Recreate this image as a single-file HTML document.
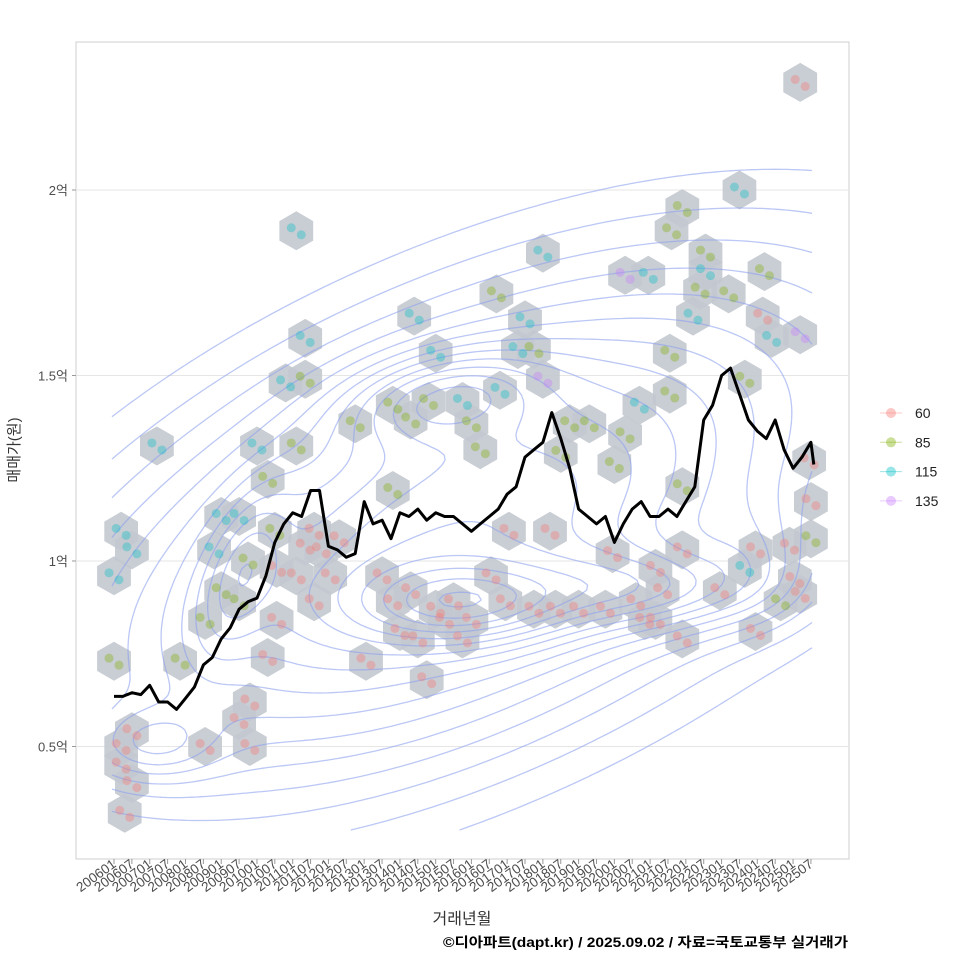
<!DOCTYPE html>
<html><head><meta charset="utf-8"><style>
body{margin:0;background:#fff;}
svg{display:block;font-family:"Liberation Sans","Noto Sans CJK KR",sans-serif;}
</style></head><body>
<svg id="chart" width="960" height="960" viewBox="0 0 960 960" xmlns="http://www.w3.org/2000/svg">
<rect x="0" y="0" width="960" height="960" fill="#fff"/>
<rect x="76" y="42" width="773" height="817" fill="#fff" stroke="#cfcfcf"/>
<g id="grid"></g>
<g id="hexes"></g>
<g id="contours"></g>
<g id="points"></g>
<g id="line"></g>
<g id="yaxis"></g>
<g id="xaxis"></g>
<text transform="translate(19,450) rotate(-90)" text-anchor="middle" font-size="15" fill="#333">매매가(원)</text>
<text x="462" y="924" text-anchor="middle" font-size="16" fill="#333">거래년월</text>
<text x="848" y="947" text-anchor="end" font-size="13.5" font-weight="bold" fill="#000" textLength="405" lengthAdjust="spacingAndGlyphs">©디아파트(dapt.kr) / 2025.09.02 / 자료=국토교통부 실거래가</text>
<g id="legend"></g>
</svg>
<script>
// ---- data ----
var lineYears=[2006,2006.25,2006.5,2006.75,2007,2007.25,2007.5,2007.75,2008,2008.25,2008.5,2008.75,2009,2009.25,2009.5,2009.75,2010,2010.25,2010.5,2010.75,2011,2011.25,2011.5,2011.75,2012,2012.25,2012.5,2012.75,2013,2013.25,2013.5,2013.75,2014,2014.25,2014.5,2014.75,2015,2015.25,2015.5,2015.75,2016,2016.25,2016.5,2016.75,2017,2017.25,2017.5,2017.75,2018,2018.25,2018.5,2018.75,2019,2019.25,2019.5,2019.75,2020,2020.25,2020.5,2020.75,2021,2021.25,2021.5,2021.75,2022,2022.25,2022.5,2022.75,2023,2023.25,2023.5,2023.75,2024,2024.25,2024.5,2024.75,2025,2025.25,2025.5,2025.58];
var lineValues=[0.635,0.635,0.645,0.64,0.665,0.62,0.62,0.60,0.63,0.66,0.72,0.74,0.79,0.82,0.87,0.89,0.90,0.96,1.05,1.10,1.13,1.12,1.19,1.19,1.04,1.03,1.01,1.02,1.16,1.10,1.11,1.06,1.13,1.12,1.14,1.11,1.13,1.12,1.12,1.10,1.08,1.10,1.12,1.14,1.18,1.20,1.28,1.30,1.32,1.40,1.33,1.25,1.14,1.12,1.10,1.12,1.05,1.10,1.14,1.16,1.12,1.12,1.14,1.12,1.16,1.20,1.38,1.42,1.50,1.52,1.45,1.38,1.35,1.33,1.38,1.30,1.25,1.28,1.32,1.26];
var hexYear=[2006.0,2006.0,2006.2,2006.2,2006.5,2006.5,2006.3,2006.5,2006.2,2007.2,2007.85,2008.55,2008.55,2008.8,2009.0,2009.0,2009.5,2009.5,2009.75,2009.8,2009.8,2009.5,2010.0,2010.3,2010.3,2010.55,2010.55,2010.5,2011.1,2011.1,2010.8,2011.35,2011.35,2011.1,2011.35,2011.6,2011.8,2011.6,2012.05,2012.3,2012.75,2013.05,2013.5,2013.8,2013.8,2013.8,2014.0,2014.3,2014.3,2014.5,2014.4,2014.75,2014.8,2015.0,2015.0,2015.25,2015.5,2015.75,2016.0,2015.75,2016.0,2016.25,2016.55,2016.7,2016.8,2016.95,2017.05,2017.3,2017.5,2017.75,2017.75,2018.0,2018.0,2018.2,2018.35,2018.5,2018.75,2019.0,2019.3,2019.75,2019.95,2020.0,2020.3,2020.3,2020.6,2020.85,2020.95,2020.7,2021.15,2021.15,2021.55,2021.55,2021.35,2021.6,2021.9,2021.9,2021.9,2021.9,2022.2,2022.4,2022.55,2022.55,2022.95,2023.2,2023.5,2023.65,2023.65,2023.95,2023.95,2024.15,2024.2,2024.4,2024.65,2024.9,2025.05,2025.2,2025.2,2025.5,2025.2,2025.45,2025.5];
var hexVal=[0.96,0.73,0.50,0.45,0.54,0.40,0.32,1.03,1.08,1.31,0.73,0.84,0.50,1.03,0.92,1.12,1.12,0.89,1.0,0.62,0.50,0.57,1.31,1.22,0.74,0.84,0.98,1.08,1.89,1.31,1.48,1.60,1.49,0.96,1.04,1.08,1.03,0.89,0.96,1.06,1.37,0.73,0.96,0.89,1.42,1.19,0.81,0.92,1.38,0.79,1.66,0.68,1.43,0.87,1.56,0.84,0.89,0.79,0.84,1.43,1.37,1.30,0.96,1.72,1.46,0.89,1.08,1.57,1.65,0.87,1.57,1.83,1.49,1.08,0.87,1.29,1.37,0.87,1.37,0.87,1.02,1.26,1.34,1.77,0.89,0.84,1.77,1.42,0.98,0.84,1.45,1.56,0.92,1.89,1.03,1.95,0.79,1.20,1.66,1.73,1.78,1.83,0.92,1.72,2.0,1.49,0.98,1.03,0.81,1.66,1.78,1.60,0.89,1.04,0.95,2.29,1.61,1.06,0.91,1.27,1.16];
var pointType="cgrrrrrcccggrcgccggrrrcgrrrgcgccgrrrrrrrgrrrggrrgrcrgrcrrrrcggrgcrrccrgcprrggrgrrggprrccrrggrgrgrgcgcgrgcgcrrrgcgrrrpgrrrrr".split("");
var legendLabels=["60","85","115","135"];
var yTicks=[0.5,1,1.5,2];
var yTickLabels=["0.5억","1억","1.5억","2억"];
var xTickStart=2006, xTickCount=40;

// ---- scales ----
function X(yr){return 114+(yr-2006)*35.74;}
function Y(v){return 561-(v-1)*371;}
var NS="http://www.w3.org/2000/svg";
function mk(tag,parent){var e=document.createElementNS(NS,tag);parent.appendChild(e);return e;}
var colors={r:"#F8766D",g:"#7CAE00",c:"#00BFC4",p:"#C77CFF"};
var legColors=["#F8766D","#7CAE00","#00BFC4","#C77CFF"];

// grid
var grid=document.getElementById("grid");
yTicks.forEach(function(v){
  var l=mk("line",grid);
  
  
  l.setAttribute("x1",77);l.setAttribute("x2",848);l.setAttribute("y1",Y(v));l.setAttribute("y2",Y(v));
  l.setAttribute("stroke","#e6e6e6");l.setAttribute("stroke-width","1");
});

// hexes
var hexG=document.getElementById("hexes");
for(var i=0;i<hexYear.length;i++){
  var cx=X(hexYear[i]),cy=Y(hexVal[i]),r=19.5,pts=[];
  for(var k=0;k<6;k++){var a=Math.PI/6+k*Math.PI/3;pts.push((cx+r*Math.cos(a)).toFixed(1)+","+(cy+r*Math.sin(a)).toFixed(1));}
  var h=mk("polygon",hexG);
  
  
  h.setAttribute("points",pts.join(" "));
  h.setAttribute("fill","#c3c8cf");h.setAttribute("opacity","0.9");
}

// contours via marching squares
(function(){
  var comps=[[460,530,330,150,-25,1.0],[440,395,70,30,-10,0.35],[465,605,75,28,0,0.4],[655,590,80,28,0,0.35],[150,745,45,25,0,0.25],[240,570,25,60,20,0.25],[760,560,40,40,0,0.15]];
  function dens(x,y){var s=0;for(var j=0;j<comps.length;j++){var c=comps[j],a=c[4]*Math.PI/180,dx=x-c[0],dy=y-c[1];var u=dx*Math.cos(a)+dy*Math.sin(a),w=-dx*Math.sin(a)+dy*Math.cos(a);s+=c[5]*Math.exp(-0.5*(u*u/(c[2]*c[2])+w*w/(c[3]*c[3])));}return s;}
  var x0=112,x1=815,y0=115,y1=830,st=5,nx=Math.floor((x1-x0)/st),ny=Math.floor((y1-y0)/st),g=[];
  for(var iy=0;iy<=ny;iy++){g[iy]=[];for(var ix=0;ix<=nx;ix++)g[iy][ix]=dens(x0+ix*st,y0+iy*st);}
  var d="";
  for(var L=0.18;L<1.35;L+=0.075){
    for(var iy=0;iy<ny;iy++)for(var ix=0;ix<nx;ix++){
      var a=g[iy][ix],b=g[iy][ix+1],c=g[iy+1][ix+1],e=g[iy+1][ix];
      var xa=x0+ix*st,ya=y0+iy*st,P=[];
      function it(p,q){return (L-p)/(q-p);}
      if((a<L)!=(b<L))P.push([xa+st*it(a,b),ya]);
      if((b<L)!=(c<L))P.push([xa+st,ya+st*it(b,c)]);
      if((e<L)!=(c<L))P.push([xa+st*it(e,c),ya+st]);
      if((a<L)!=(e<L))P.push([xa,ya+st*it(a,e)]);
      if(P.length>=2)d+="M"+P[0][0].toFixed(1)+" "+P[0][1].toFixed(1)+"L"+P[1][0].toFixed(1)+" "+P[1][1].toFixed(1);
      if(P.length==4)d+="M"+P[2][0].toFixed(1)+" "+P[2][1].toFixed(1)+"L"+P[3][0].toFixed(1)+" "+P[3][1].toFixed(1);
    }
  }
  var p=mk("path",document.getElementById("contours"));
  
  
  p.setAttribute("d",d);p.setAttribute("fill","none");p.setAttribute("stroke","#8ea2ee");p.setAttribute("stroke-width","1.3");p.setAttribute("opacity","0.6");
})();

// points
var ptG=document.getElementById("points");
var offs=[[-5,-3],[5,4]];
for(var i=0;i<hexYear.length;i++){
  var t=pointType[i]||"r";
  for(var k=0;k<2;k++){
    var c=mk("circle",ptG);
    
    
    c.setAttribute("cx",X(hexYear[i])+offs[k][0]);c.setAttribute("cy",Y(hexVal[i])+offs[k][1]);
    c.setAttribute("r",4.5);c.setAttribute("fill",colors[t]);c.setAttribute("fill-opacity","0.35");
  }
}

// line
var lp=mk("polyline",document.getElementById("line"));


lp.setAttribute("points",lineYears.map(function(y,i){return X(y).toFixed(1)+","+Y(lineValues[i]).toFixed(1);}).join(" "));
lp.setAttribute("fill","none");lp.setAttribute("stroke","#000");lp.setAttribute("stroke-width","3");lp.setAttribute("stroke-linejoin","round");

// y axis
var ya=document.getElementById("yaxis");
yTicks.forEach(function(v,i){
  var t=mk("text",ya);
  
  
  t.setAttribute("x",68);t.setAttribute("y",Y(v)+5);t.setAttribute("text-anchor","end");t.setAttribute("font-size","13");t.setAttribute("fill","#4d4d4d");
  t.textContent=yTickLabels[i];
  var tk=mk("line",ya);
  
  
  tk.setAttribute("x1",72);tk.setAttribute("x2",76);tk.setAttribute("y1",Y(v));tk.setAttribute("y2",Y(v));tk.setAttribute("stroke","#999");
});

// x axis
var xa=document.getElementById("xaxis");
for(var i=0;i<xTickCount;i++){
  var yr=xTickStart+Math.floor(i/2), mo=(i%2)?"07":"01", x=X(xTickStart+i*0.5);
  var tk=mk("line",xa);
  
  
  tk.setAttribute("x1",x);tk.setAttribute("x2",x);tk.setAttribute("y1",859);tk.setAttribute("y2",864);tk.setAttribute("stroke","#999");
  var t=mk("text",xa);
  
  
  t.setAttribute("transform","translate("+(x+3)+",866) rotate(-36)");
  t.setAttribute("text-anchor","end");t.setAttribute("font-size","13.5");t.setAttribute("fill","#4d4d4d");
  t.textContent=yr+mo;
}

// legend
var lg=document.getElementById("legend");
legendLabels.forEach(function(lab,i){
  var y=413+i*29.3;
  var l=mk("line",lg);
  
  
  l.setAttribute("x1",880);l.setAttribute("x2",902);l.setAttribute("y1",y);l.setAttribute("y2",y);l.setAttribute("stroke",legColors[i]);l.setAttribute("stroke-opacity","0.4");
  var c=mk("circle",lg);
  
  
  c.setAttribute("cx",891);c.setAttribute("cy",y);c.setAttribute("r",5);c.setAttribute("fill",legColors[i]);c.setAttribute("fill-opacity","0.4");
  var t=mk("text",lg);
  
  
  t.setAttribute("x",915);t.setAttribute("y",y+5);t.setAttribute("font-size","14");t.setAttribute("fill","#222");
  t.textContent=lab;
});
</script>
</body></html>
